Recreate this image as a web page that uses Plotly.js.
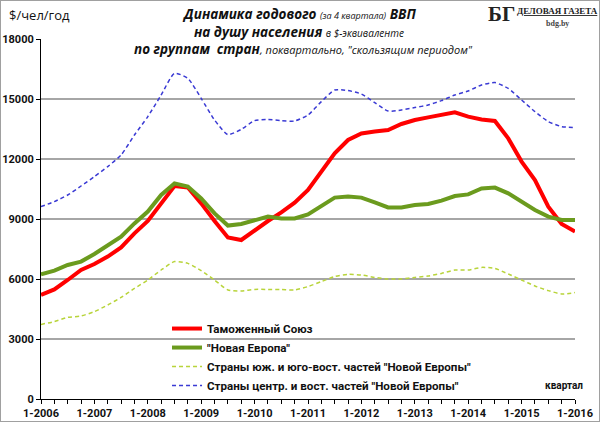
<!DOCTYPE html>
<html><head><meta charset="utf-8">
<script src="https://cdn.plot.ly/plotly-3.0.1.min.js"></script>
<style>
html,body{margin:0;padding:0;background:#fff;}
#wrap{position:relative;width:600px;height:422px;}
#chart{width:600px;height:422px;}
#frame{position:absolute;left:0;top:0;width:598px;height:420px;border:1px solid #a0a0a0;pointer-events:none;}
</style></head>
<body><div id="wrap"><div id="chart"></div><div id="frame"></div></div>
<script>
// quarters 1-2006 .. 1-2016
const years = [2006,2007,2008,2009,2010,2011,2012,2013,2014,2015,2016];
const quarters = [];
years.forEach(y => { for (let q=1;q<=4;q++){ if (y===2016 && q>1) break; quarters.push(q+'-'+y); } });
const tickLabels = quarters.map(c => c.startsWith('1-') ? c : '');

const seriesNames = ['Таможенный Союз','"Новая Европа"','Страны юж. и юго-вост. частей "Новой Европы"','Страны центр. и вост. частей "Новой Европы"'];

const customsUnion = [5200,5480,5950,6450,6750,7120,7580,8280,8900,9780,10650,10580,9780,8900,8080,7950,8450,8900,9330,9820,10450,11370,12280,12950,13280,13370,13450,13750,13950,14080,14200,14330,14120,13980,13900,13030,11870,10950,9620,8750,8370];
const newEurope = [6230,6420,6700,6870,7250,7670,8120,8780,9370,10200,10780,10620,10030,9280,8670,8750,8950,9120,9030,9030,9230,9650,10070,10120,10070,9830,9580,9580,9700,9750,9920,10150,10230,10530,10570,10280,9870,9450,9120,8950,8950];
const southEast = [3730,3870,4080,4150,4370,4700,5080,5530,5950,6450,6870,6780,6420,5950,5450,5400,5480,5480,5480,5450,5620,5870,6120,6230,6200,6080,6000,6000,6080,6150,6280,6450,6450,6580,6530,6250,5950,5650,5420,5250,5320];
const centralEast = [9620,9870,10200,10650,11120,11620,12200,13200,14120,15200,16280,16030,15030,13950,13220,13480,13920,13980,13920,13900,14200,14870,15450,15420,15250,14820,14400,14450,14570,14700,14920,15200,15400,15700,15820,15530,14950,14370,13870,13620,13570];

const yTicks = [0,3000,6000,9000,12000,15000,18000];

const FONT = 'Roboto, Open Sans, sans-serif';
const TFONT = 'Open Sans, Noto Sans, sans-serif';
const traces = [
  {x:quarters, y:customsUnion, name:seriesNames[0], mode:'lines', line:{color:'#ff0000', width:4}},
  {x:quarters, y:newEurope, name:seriesNames[1], mode:'lines', line:{color:'#6b9b1e', width:4}},
  {x:quarters, y:southEast, name:seriesNames[2], mode:'lines', line:{color:'#b8d43a', width:1.5, dash:'4px,3px', shape:'spline', smoothing:0.6}},
  {x:quarters, y:centralEast, name:seriesNames[3], mode:'lines', line:{color:'#3a3ad4', width:1.5, dash:'4px,3px', shape:'spline', smoothing:0.6}}
];

const layout = {
  width:600, height:422,
  margin:{l:41, r:25, t:39, b:23},
  paper_bgcolor:'#fff', plot_bgcolor:'#fff',
  showlegend:true,
  legend:{x:0.236, y:0.236, xanchor:'left', yanchor:'top', bgcolor:'rgba(0,0,0,0)',
    font:{family:FONT, size:11.6, color:'#111', weight:700}, tracegroupgap:0, itemwidth:30},
  xaxis:{type:'category', categoryorder:'array', categoryarray:quarters, range:[0,quarters.length-1],
    tickmode:'array', tickvals:quarters, ticktext:tickLabels, ticks:'outside', ticklen:4, tickcolor:'#000',
    showline:true, linecolor:'#000', linewidth:1, showgrid:false, zeroline:false,
    tickfont:{family:FONT, size:11, color:'#111', weight:700}, tickangle:0, fixedrange:true},
  yaxis:{range:[0,18000], tickmode:'array', tickvals:yTicks, ticktext:yTicks.map(String),
    ticks:'outside', ticklen:4, tickcolor:'#000', showline:true, linecolor:'#000', linewidth:1,
    showgrid:true, gridcolor:'#a6a6a6', gridwidth:1.2, zeroline:false,
    tickfont:{family:FONT, size:11, color:'#111', weight:700}},
  annotations:[
    {xref:'paper', yref:'paper', x:-0.002, y:1.068, xanchor:'center', yanchor:'middle', showarrow:false,
     text:'$/чел/год', font:{family:TFONT, size:13, color:'#111'}},
    {xref:'paper', yref:'paper', x:0.484, y:1.07, xanchor:'center', yanchor:'middle', showarrow:false,
     text:'<b><i>Динамика годового </i></b><i><span style="font-size:9px">(за 4 квартала)</span></i><b><i> ВВП</i></b>',
     font:{family:TFONT, size:13.5, color:'#111'}},
    {xref:'paper', yref:'paper', x:0.484, y:1.02, xanchor:'center', yanchor:'middle', showarrow:false,
     text:'<b><i>на душу населения </i></b><i><span style="font-size:10px">в $-эквиваленте</span></i>',
     font:{family:TFONT, size:13.5, color:'#111'}},
    {xref:'paper', yref:'paper', x:0.492, y:0.972, xanchor:'center', yanchor:'middle', showarrow:false,
     text:'<b><i>по группам  стран</i></b><i><span style="font-size:11px">, поквартально, "скользящим периодом"</span></i>',
     font:{family:TFONT, size:13.5, color:'#111'}},
    {xref:'paper', yref:'paper', x:0.862, y:1.07, xanchor:'center', yanchor:'middle', showarrow:false,
     text:'<b>БГ</b>', font:{family:'Liberation Serif, DejaVu Serif, serif', size:21, color:'#222'}},
    {xref:'paper', yref:'paper', x:0.968, y:1.078, xanchor:'center', yanchor:'middle', showarrow:false,
     text:'<b><u>ДЕЛОВАЯ ГАЗЕТА</u></b>', font:{family:'Liberation Serif, DejaVu Serif, serif', size:9, color:'#222'}},
    {xref:'paper', yref:'paper', x:0.968, y:1.042, xanchor:'center', yanchor:'middle', showarrow:false,
     text:'<b>bdg.by</b>', font:{family:'Liberation Serif, DejaVu Serif, serif', size:8, color:'#444'}},
    {xref:'paper', yref:'paper', x:0.98, y:0.038, xanchor:'center', yanchor:'middle', showarrow:false,
     text:'квартал', font:{family:FONT, size:10, color:'#111', weight:700}}
  ]
};

Plotly.newPlot('chart', traces, layout, {displayModeBar:false, staticPlot:true});
</script></body></html>
